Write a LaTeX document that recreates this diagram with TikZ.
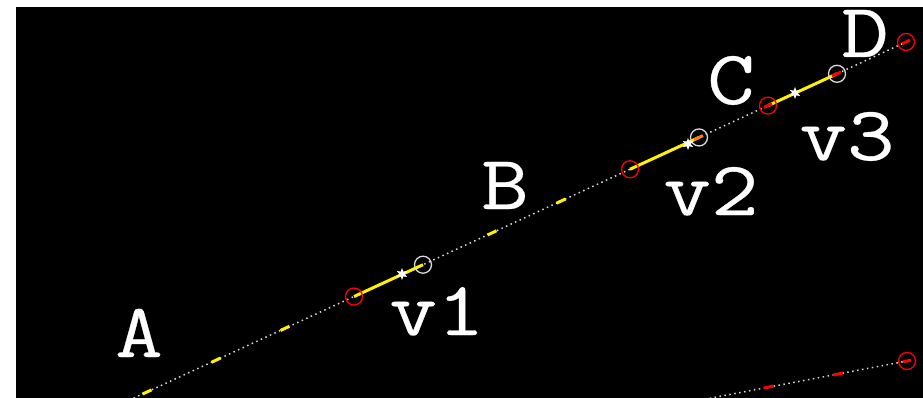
\documentclass[tikz,border=0pt]{standalone}
\usepackage{fontspec}
\newfontfamily\lbltt[FakeStretch=1.2,FakeBold=0.4]{Latin Modern Mono}
\usetikzlibrary{shapes.geometric,calc}
\begin{document}
\begin{tikzpicture}[x=1pt,y=-1pt,
  lbl/.style={font=\lbltt\fontsize{77}{77}\selectfont,text=white,inner sep=0pt,anchor=base},
  track/.style={white!85!black,line width=1.5pt,dash pattern=on 1.5pt off 3.5pt},
  ydash/.style={yellow,line width=3pt},
  rdash/.style={red,line width=3pt},
  seg/.style={yellow,line width=3pt},
  redc/.style={circle,draw=red,line width=1.3pt,minimum size=17pt,inner sep=0pt},
  whitec/.style={circle,draw=white!85!black,line width=1.3pt,minimum size=17pt,inner sep=0pt},
  spark/.style={star,star points=6,star point ratio=2.2,fill=white,minimum size=12pt,inner sep=0pt}]
\useasboundingbox (0,0) rectangle (923,398);
\fill[white] (0,0) rectangle (923,398);
\fill[black] (16,7) rectangle (923,398);
\begin{scope}
\clip (16,7) rectangle (923,398);
% main track points
\foreach \k in {0,...,11}{\coordinate (p\k) at ({147+69*\k},{392-31.82*\k});}
\coordinate (mS) at (120,404.4);
\draw[track] (mS) -- (p11);
% yellow dashes
\foreach \k in {0,1,2,5,6}{\draw[ydash] ($(p\k)+(-4.5,2.1)$) -- ($(p\k)+(4.5,-2.1)$);}
% yellow segments
\draw[seg] (p3) -- (p4);
\draw[seg] (p7) -- (p8);
\draw[seg] (p9) -- (p10);
\draw[orange,line width=3pt] ($(p8)+(-5,2.3)$) -- ($(p8)+(4,-1.8)$);
\draw[rdash] ($(p9)+(-4,1.8)$) -- ($(p9)+(4,-1.8)$);
\draw[rdash] ($(p10)+(-5,2.3)$) -- ($(p10)+(4,-1.8)$);
\draw[rdash] ($(p11)+(-4,1.8)$) -- ($(p11)+(4,-1.8)$);
% circles
\node[redc] (r1) at (p3) {};
\node[whitec] (w1) at (p4) {};
\node[redc] (r2) at (p7) {};
\node[whitec] (w2) at (p8) {};
\node[redc] (r3) at (p9) {};
\node[whitec] (w3) at (p10) {};
\node[redc] (rD) at (p11) {};
% sparks
\node[spark] (s1) at (402,274) {};
\node[spark] (s2) at (688,144) {};
\node[spark] (s3) at (795,93) {};
% lower track
\coordinate (q0) at (907,361);
\coordinate (q1) at (838,374);
\coordinate (q2) at (769,387);
\coordinate (qS) at (690,402);
\draw[track] (qS) -- (q0);
\draw[rdash] ($(q1)+(-5,1)$) -- ($(q1)+(5,-1)$);
\draw[rdash] ($(q2)+(-5,1)$) -- ($(q2)+(5,-1)$);
\draw[rdash] ($(q0)+(-4,0.8)$) -- ($(q0)+(4,-0.8)$);
\node[redc] (rq) at (q0) {};
\end{scope}
% labels
\node[lbl] (A) at (139,357) {A};
\node[lbl] (B) at (505,209) {B};
\node[lbl] (C) at (731,104) {C};
\node[lbl] (D) at (865,57) {D};
\node[lbl] (v1) at (437,335) {v1};
\node[lbl] (v2) at (711,215) {v2};
\node[lbl] (v3) at (847,160) {v3};
\end{tikzpicture}
\end{document}
